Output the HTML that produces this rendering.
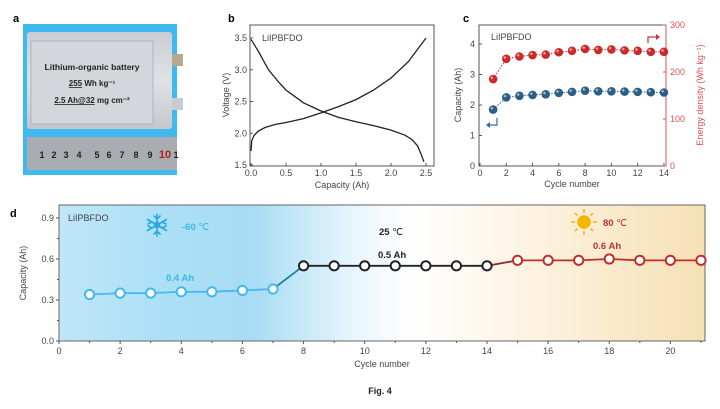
<!DOCTYPE html>
<html><head><meta charset="utf-8"><style>
html,body{margin:0;padding:0;background:#fff;width:720px;height:409px;overflow:hidden}
svg{display:block;font-family:"Liberation Sans",Arial,sans-serif}
</style></head><body>
<svg id="s" width="720" height="409" viewBox="0 0 720 409" xmlns="http://www.w3.org/2000/svg">
<defs>
<linearGradient id="bg" x1="0" x2="1" y1="0" y2="0">
<stop offset="0" stop-color="#bfe6f7"/><stop offset="0.15" stop-color="#ade0f6"/>
<stop offset="0.3" stop-color="#a6dcf4"/><stop offset="0.45" stop-color="#e6f5fc"/>
<stop offset="0.55" stop-color="#ffffff"/><stop offset="0.7" stop-color="#fdf5e6"/>
<stop offset="1" stop-color="#f6e0b5"/></linearGradient>
<radialGradient id="ball" cx="0.35" cy="0.35" r="0.7"><stop offset="0" stop-color="#fff" stop-opacity="0.9"/><stop offset="0.3" stop-color="#fff" stop-opacity="0"/></radialGradient>
<linearGradient id="bat" x1="0" x2="0" y1="0" y2="1"><stop offset="0" stop-color="#c9cdd2"/><stop offset="0.5" stop-color="#dfe2e5"/><stop offset="1" stop-color="#c4c8cc"/></linearGradient>
</defs>
<!-- panel a -->
<text x="13" y="22" font-size="11" font-weight="bold">a</text>
<rect x="23" y="24" width="154" height="151" fill="#40b8f0"/>
<rect x="27" y="32" width="145" height="97" fill="url(#bat)" rx="3"/>
<rect x="31" y="41" width="122" height="83" fill="#d3d7db" stroke="#b0b5ba" stroke-width="1"/>
<rect x="172" y="54" width="11" height="12" fill="#b7a98e"/>
<rect x="172" y="98" width="11" height="12" fill="#c8ccd0"/>
<text x="92" y="70" font-size="8.5" font-weight="bold" text-anchor="middle" fill="#222">Lithium-organic battery</text>
<text x="92" y="86" font-size="8" font-weight="bold" text-anchor="middle" fill="#222"><tspan text-decoration="underline">255</tspan> Wh kg⁻¹</text>
<text x="92" y="103" font-size="8" font-weight="bold" text-anchor="middle" fill="#222"><tspan text-decoration="underline">2.5 Ah@32</tspan> mg cm⁻²</text>
<rect x="27" y="137" width="150" height="33" fill="#a9adb1"/>
<g font-size="9" font-weight="bold" fill="#222" text-anchor="middle">
<text x="42" y="158">1</text><text x="54" y="158">2</text><text x="66" y="158">3</text><text x="79" y="158">4</text><text x="97" y="158">5</text><text x="109" y="158">6</text><text x="122" y="158">7</text><text x="136" y="158">8</text><text x="150" y="158">9</text><text x="165" y="158" fill="#b02020" font-size="11">10</text><text x="176" y="158">1</text>
</g>
<!-- panel b -->
<text x="228" y="22" font-size="11" font-weight="bold">b</text>
<rect x="250" y="25" width="184" height="141" fill="none" stroke="#555" stroke-width="1"/>
<g id="bt" font-size="9" fill="#444"></g>
<text x="262" y="41" font-size="9" fill="#444">LiIPBFDO</text>
<text x="342" y="188" font-size="9" fill="#444" text-anchor="middle">Capacity (Ah)</text>
<text transform="translate(229,95) rotate(-90)" font-size="9" fill="#444" text-anchor="middle">Voltage (V)</text>
<path id="dis" fill="none" stroke="#222" stroke-width="1.3"/>
<path id="chg" fill="none" stroke="#222" stroke-width="1.3"/>
<!-- panel c -->
<text x="463" y="22" font-size="11" font-weight="bold">c</text>
<rect x="479" y="25" width="187" height="141" fill="none" stroke="#555" stroke-width="1"/>
<line x1="666" y1="25" x2="666" y2="166" stroke="#e05050" stroke-width="1"/>
<g id="ct" font-size="9" fill="#444"></g>
<text x="491" y="40" font-size="9" fill="#444">LiIPBFDO</text>
<text x="572" y="187" font-size="9" fill="#444" text-anchor="middle">Cycle number</text>
<text transform="translate(461,95) rotate(-90)" font-size="9" fill="#444" text-anchor="middle">Capacity (Ah)</text>
<text transform="translate(703,95) rotate(-90)" font-size="9" fill="#e05050" text-anchor="middle">Energy density (Wh kg⁻¹)</text>
<path d="M648 43 V37 H658" fill="none" stroke="#d03030" stroke-width="1.2"/><path d="M656 34 L660 37 L656 40Z" fill="#d03030"/>
<path d="M497 118 V125 H488" fill="none" stroke="#2e6ea0" stroke-width="1.2"/><path d="M490 122 L486 125 L490 128Z" fill="#2e6ea0"/>
<g id="cs"></g>
<!-- panel d -->
<text x="10" y="217" font-size="11" font-weight="bold">d</text>
<rect x="59" y="205" width="646" height="136" fill="url(#bg)" stroke="#666" stroke-width="1"/>
<g id="dt" font-size="9" fill="#444"></g>
<text x="68" y="221" font-size="9" fill="#444">LiIPBFDO</text>
<text x="382" y="367" font-size="9" fill="#444" text-anchor="middle">Cycle number</text>
<text transform="translate(26,273) rotate(-90)" font-size="9" fill="#444" text-anchor="middle">Capacity (Ah)</text>
<g stroke="#2aa8e0" stroke-width="1.6" fill="none" stroke-linecap="round" transform="translate(157,225)">
<line x1="0" y1="-11" x2="0" y2="11"/><line x1="-9.5" y1="-5.5" x2="9.5" y2="5.5"/><line x1="-9.5" y1="5.5" x2="9.5" y2="-5.5"/>
<path d="M-3 -9 L0 -6 L3 -9 M-3 9 L0 6 L3 9 M-9 -1 L-5 -3 M9 1 L5 3 M-9 1 L-5 3 M9 -1 L5 -3"/>
<circle r="2.5" fill="#2aa8e0"/></g>
<text x="182" y="230" font-size="9.5" font-weight="bold" fill="#39b6ea">-60 <tspan font-weight="normal">℃</tspan></text>
<text x="379" y="235" font-size="9.5" font-weight="bold" fill="#222">25 <tspan font-weight="normal">℃</tspan></text>
<g transform="translate(584,222)" stroke="#f5b100" stroke-width="1.4"><circle r="6" fill="#f7b500"/>
<line x1="0" y1="-9" x2="0" y2="-13"/><line x1="0" y1="9" x2="0" y2="13"/><line x1="9" y1="0" x2="13" y2="0"/><line x1="-9" y1="0" x2="-13" y2="0"/>
<line x1="6.5" y1="6.5" x2="9" y2="9"/><line x1="-6.5" y1="6.5" x2="-9" y2="9"/><line x1="6.5" y1="-6.5" x2="9" y2="-9"/><line x1="-6.5" y1="-6.5" x2="-9" y2="-9"/></g>
<text x="603" y="226" font-size="9.5" font-weight="bold" fill="#c0302a">80 <tspan font-weight="normal">℃</tspan></text>
<text x="166" y="281" font-size="9.5" font-weight="bold" fill="#39b6ea">0.4 Ah</text>
<text x="378" y="258" font-size="9.5" font-weight="bold" fill="#222">0.5 Ah</text>
<text x="593" y="249" font-size="9.5" font-weight="bold" fill="#c0302a">0.6 Ah</text>
<g id="ds"></g>
<text x="380" y="394" font-size="9" font-weight="bold" fill="#222" text-anchor="middle">Fig. 4</text>
</svg>
<script>
var NS="http://www.w3.org/2000/svg";
function el(p,t,a,txt){var e=document.createElementNS(NS,t);for(var k in a)e.setAttribute(k,a[k]);if(txt!==undefined)e.textContent=txt;p.appendChild(e);return e;}
var bx=function(c){return 251+c*70},by=function(v){return 165-(v-1.5)*63.5};
var bt=document.getElementById('bt');
[0,0.5,1,1.5,2,2.5].forEach(function(c){el(bt,'line',{x1:bx(c),x2:bx(c),y1:166,y2:163,stroke:'#555'});el(bt,'text',{x:bx(c),y:176,'text-anchor':'middle'},c.toFixed(1));});
[1.5,2,2.5,3,3.5].forEach(function(v){el(bt,'line',{x1:250,x2:253,y1:by(v),y2:by(v),stroke:'#555'});el(bt,'text',{x:247,y:by(v)+3,'text-anchor':'end'},v.toFixed(1));});
function pth(pts){return 'M'+pts.map(function(p){return bx(p[0]).toFixed(1)+' '+by(p[1]).toFixed(1)}).join(' L');}
document.getElementById('dis').setAttribute('d',pth([[0,3.48],[0.1,3.3],[0.25,3.0],[0.4,2.8],[0.5,2.68],[0.75,2.48],[1.0,2.35],[1.25,2.25],[1.5,2.18],[1.75,2.12],[2.0,2.05],[2.2,1.97],[2.3,1.9],[2.38,1.8],[2.43,1.67],[2.47,1.55]]));
document.getElementById('chg').setAttribute('d',pth([[0,1.72],[0.01,1.88],[0.04,1.96],[0.1,2.03],[0.2,2.09],[0.35,2.14],[0.5,2.17],[0.75,2.23],[1.0,2.32],[1.25,2.42],[1.5,2.53],[1.75,2.68],[2.0,2.87],[2.25,3.13],[2.5,3.5]]));
var cx=function(n){return 480+n*13.14},cyl=function(v){return 166-v*30.5},cyr=function(v){return 166-v*0.47};
var ct=document.getElementById('ct');
for(var n=0;n<=14;n+=2){el(ct,'line',{x1:cx(n),x2:cx(n),y1:166,y2:163,stroke:'#555'});el(ct,'text',{x:cx(n),y:176,'text-anchor':'middle'},n);}
for(var v=0;v<=4;v++){el(ct,'line',{x1:479,x2:482,y1:cyl(v),y2:cyl(v),stroke:'#555'});el(ct,'text',{x:475,y:cyl(v)+3,'text-anchor':'end'},v);}
for(var v=0;v<=300;v+=100){el(ct,'line',{x1:663,x2:666,y1:cyr(v),y2:cyr(v),stroke:'#e05050'});el(ct,'text',{x:670,y:cyr(v)+3,fill:'#e05050'},v);}
var cap=[1.85,2.25,2.3,2.33,2.35,2.4,2.43,2.47,2.45,2.45,2.44,2.43,2.42,2.41];
var en=[185,228,233,236,237,242,245,249,247,248,246,245,243,243];
var cs=document.getElementById('cs');
function series(arr,fy,col){var d='M'+arr.map(function(v,i){return cx(i+1).toFixed(1)+' '+fy(v).toFixed(1)}).join(' L');
el(cs,'path',{d:d,fill:'none',stroke:col,'stroke-width':1,'stroke-dasharray':'1.5 1.5'});
arr.forEach(function(v,i){el(cs,'circle',{cx:cx(i+1),cy:fy(v),r:4.3,fill:col});el(cs,'circle',{cx:cx(i+1),cy:fy(v),r:4.3,fill:'url(#ball)'});});}
series(cap,cyl,'#2c5f85');series(en,cyr,'#cc2a2a');
var dx=function(n){return 59+n*30.57},dy=function(v){return 341-v*136.7};
var dt=document.getElementById('dt');
for(var n=0;n<=20;n+=2){el(dt,'line',{x1:dx(n),x2:dx(n),y1:341,y2:344,stroke:'#555'});el(dt,'text',{x:dx(n),y:354,'text-anchor':'middle'},n);}
for(var n=1;n<=21;n+=2){el(dt,'line',{x1:dx(n),x2:dx(n),y1:341,y2:343,stroke:'#555'});}
[0,0.3,0.6,0.9].forEach(function(v){el(dt,'line',{x1:56,x2:59,y1:dy(v),y2:dy(v),stroke:'#555'});el(dt,'text',{x:54,y:dy(v)+3,'text-anchor':'end'},v.toFixed(1));});
[0.15,0.45,0.75].forEach(function(v){el(dt,'line',{x1:57,x2:59,y1:dy(v),y2:dy(v),stroke:'#555'});});
var dv=[0.34,0.35,0.35,0.36,0.36,0.37,0.38,0.55,0.55,0.55,0.55,0.55,0.55,0.55,0.59,0.59,0.59,0.6,0.59,0.59,0.59];
var ds=document.getElementById('ds');
function col(i){return i<7?'#45b8ee':(i<14?'#222':'#c0302a');}
for(var i=0;i<20;i++){var c=(i==6)?'#1a7fa0':(i==13?'#8a2a2a':col(i));
el(ds,'line',{x1:dx(i+1),y1:dy(dv[i]),x2:dx(i+2),y2:dy(dv[i+1]),stroke:c,'stroke-width':1.8});}
for(var i=0;i<21;i++){el(ds,'circle',{cx:dx(i+1),cy:dy(dv[i]),r:4.6,fill:'#fff',stroke:col(i),'stroke-width':2});}
</script>
</body></html>
